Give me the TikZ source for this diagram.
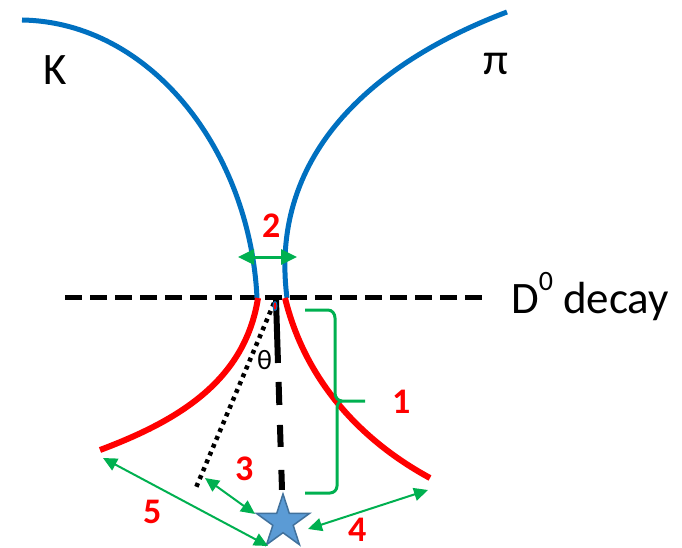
\documentclass[tikz,border=0pt]{standalone}
\usepackage{fontspec}
\setmainfont{Carlito}
\usetikzlibrary{arrows.meta,shapes.geometric}
\definecolor{tblue}{HTML}{0070C0}
\definecolor{tred}{HTML}{FF0000}
\definecolor{tgreen}{HTML}{00B050}
\definecolor{starfill}{HTML}{5B9BD5}
\definecolor{starline}{HTML}{41719C}
\begin{document}
\begin{tikzpicture}[x=1pt,y=-1pt,
  track/.style={line width=5pt,tblue},
  redtrack/.style={line width=6pt,tred},
  garrow/.style={tgreen,line width=2pt,{Triangle[length=14pt,width=13pt]}-{Triangle[length=14pt,width=13pt]}},
  bigarrow/.style={tgreen,line width=3pt,{Triangle[length=16pt,width=15pt]}-{Triangle[length=16pt,width=15pt]}},
  bracestyle/.style={tgreen,line width=3pt},
  num/.style={text=tred,font=\fontsize{36}{36}\selectfont\bfseries,inner sep=0pt,text depth=0pt,anchor=base west},
  lab/.style={font=\fontsize{45}{45}\selectfont,inner sep=0pt,anchor=base west}]
\useasboundingbox (0,0) rectangle (682,548);

% D0 decay line
\coordinate (hl) at (65,297);
\coordinate (hr) at (485,297);
\draw[line width=5pt,dash pattern=on 17pt off 8pt] (hl) -- (hr);

% blue tracks
\coordinate (kstart) at (22,20);
\coordinate (kend) at (257,298);
\coordinate (pstart) at (507,12);
\coordinate (pend) at (287,298);
\draw[track] (kstart) .. controls (150,22) and (250,150) .. (kend);
\draw[track] (pstart) .. controls (380,60) and (268,150) .. (pend);

% red tracks
\coordinate (rlstart) at (258,298);
\coordinate (rlend) at (100,450);
\coordinate (rrstart) at (285,298);
\coordinate (rrend) at (430,478);
\draw[redtrack] (rlstart) .. controls (245,380) and (180,420) .. (rlend);
\draw[redtrack] (rrstart) .. controls (305,380) and (360,440) .. (rrend);

% flight direction and dotted line
\coordinate (vtop) at (276,300);
\coordinate (vbot) at (282,490);
\draw[line width=6pt,dash pattern=on 63pt off 19pt on 23pt off 20pt on 22pt off 23pt on 20pt] (vtop) -- (vbot);
\coordinate (dtop) at (274,303);
\coordinate (dbot) at (195,490);
\draw[line width=4.5pt,dash pattern=on 4pt off 4.5pt] (dtop) -- (dbot);

% vertex mark
\node[ellipse,draw=tblue,fill=tred,minimum width=4pt,minimum height=9pt,inner sep=0pt,line width=1pt] (vtx) at (275,306) {};

% star
\node[star,star points=5,star point ratio=2.618,minimum size=56pt,inner sep=0pt,fill=starfill,draw=starline,line width=1.5pt] (st) at (283,522) {};

% arrows
\coordinate (a2l) at (238,257);
\coordinate (a2r) at (297,257);
\draw[bigarrow] (a2l) -- (a2r);
\coordinate (a3a) at (205,478);
\coordinate (a3b) at (255,514);
\draw[garrow] (a3a) -- (a3b);
\coordinate (a5a) at (103,458);
\coordinate (a5b) at (268,546);
\draw[garrow] (a5a) -- (a5b);
\coordinate (a4a) at (308,529);
\coordinate (a4b) at (428,490);
\draw[garrow] (a4a) -- (a4b);

% brace 1
\draw[bracestyle,line join=round] (305,310) -- (328,310) to[out=0,in=90] (335,318) -- (335,393) to[out=-90,in=180] (342,401) -- (365,401);
\draw[bracestyle,line join=round] (342,401) to[out=180,in=90] (337,409) -- (337,486) to[out=-90,in=0] (330,493) -- (305,493);

% labels
\node[lab] (K) at (43,85) {K};
\node[lab] (pi) at (483,75) {π};
\node[lab] (D0) at (511,313) {D\raisebox{0.5em}{\fontsize{28}{28}\selectfont 0} decay};
\node[font=\fontsize{28}{28}\selectfont,inner sep=0pt,anchor=base west] (th) at (257,369) {θ};
\node[num] (n2) at (262,237) {2};
\node[num] (n3) at (235,480) {3};
\node[num] (n5) at (143,523) {5};
\node[num] (n4) at (348,541) {4};
\node[num] (n1) at (392,413) {1};
\end{tikzpicture}
\end{document}
